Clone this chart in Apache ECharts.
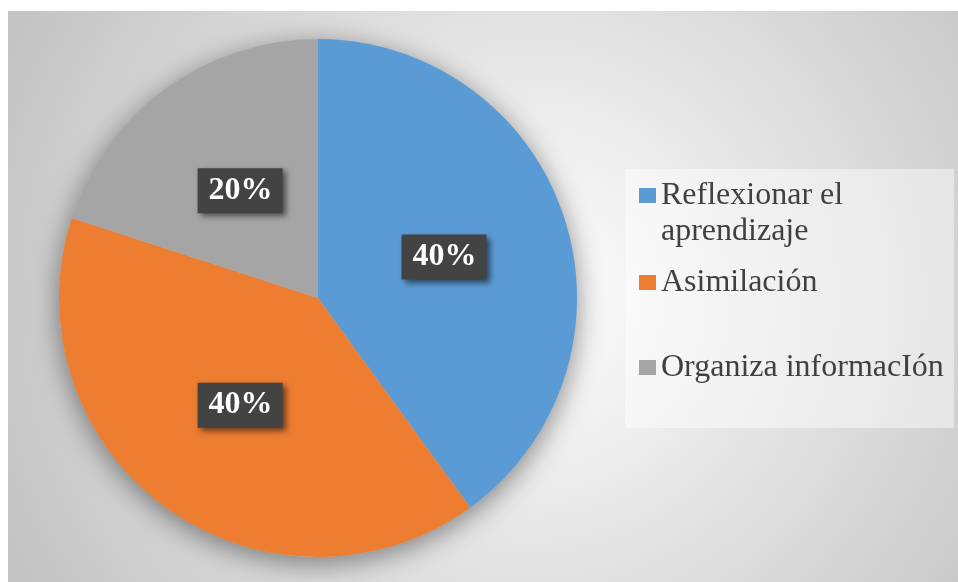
<!DOCTYPE html>
<html>
<head>
<meta charset="utf-8">
<script src="https://cdn.jsdelivr.net/npm/echarts@6/dist/echarts.min.js"></script>
<style>
  html, body { margin: 0; padding: 0; background: #ffffff; }
  #chart { width: 958px; height: 582px; }
</style>
</head>
<body>
<div id="chart"></div>
<script>
// datos del grafico
var categories = ["Reflexionar el aprendizaje", "Asimilación", "Organiza informacIón"];
var legendLabels = ["Reflexionar el\naprendizaje", "Asimilación", "Organiza informacIón"];
var values = [40, 40, 20];
var colors = ["#5B9BD5", "#ED7D31", "#A5A5A5"];

var myChart = echarts.init(document.getElementById("chart"));

var pieData = [];
for (var i = 0; i < categories.length; i++) {
  pieData.push({ name: categories[i], value: values[i], itemStyle: { color: colors[i] } });
}
var total = 0;
for (var j = 0; j < values.length; j++) total += values[j];

var serif = "Liberation Serif";
var legendTops = [188, 275, 360];

function makeLegend(idx) {
  var lg = {
    orient: "vertical",
    left: 639,
    top: legendTops[idx] - 10.5,
    padding: 0,
    itemWidth: 17,
    itemHeight: 15,
    icon: "rect",
    selectedMode: false,
    data: [categories[idx]],
    formatter: function () { return legendLabels[idx]; },
    textStyle: {
      color: "#404040",
      fontFamily: serif,
      fontSize: 32,
      lineHeight: 36
    }
  };
  if (idx === 0) {
    // icono arriba, alineado con la primera linea del texto
    lg.itemHeight = 51;
    lg.icon = "path://M0,0L17,0L17,15L0,15Z M0,51L17,51L17,51L0,51Z";
  }
  return lg;
}

var option = {
  animation: false,
  graphic: [
    {
      type: "rect",
      z: -10,
      shape: { x: 8, y: 11, width: 950, height: 571 },
      style: {
        fill: {
          type: "radial", x: 0.55, y: 0.5, r: 1,
          colorStops: [
            { offset: 0, color: "#ffffff" },
            { offset: 1, color: "#c4c4c4" }
          ]
        }
      }
    },
    {
      type: "rect",
      z: -5,
      shape: { x: 625, y: 169, width: 329, height: 259 },
      style: { fill: "rgba(255,255,255,0.45)" }
    }
  ],
  legend: [makeLegend(0), makeLegend(1), makeLegend(2)],
  series: [
    {
      // sombra del circulo
      name: "sombra",
      type: "pie",
      silent: true,
      center: [318, 298],
      radius: 259,
      label: { show: false },
      labelLine: { show: false },
      itemStyle: {
        color: "#bdbdbd",
        shadowBlur: 28,
        shadowColor: "rgba(0,0,0,0.45)",
        shadowOffsetY: 6
      },
      data: [{ name: "sombra", value: total }]
    },
    {
      name: "datos",
      type: "pie",
      center: [318, 298],
      radius: 259,
      startAngle: 90,
      clockwise: true,
      emphasis: { scale: false },
      itemStyle: { borderWidth: 0 },
      label: {
        show: true,
        position: "inside",
        formatter: "{d}%",
        color: "#ffffff",
        fontFamily: serif,
        fontWeight: "bold",
        fontSize: 32,
        lineHeight: 32,
        backgroundColor: "#434343",
        padding: [7, 10, 6, 11],
        shadowBlur: 6,
        shadowOffsetX: 3,
        shadowOffsetY: 3,
        shadowColor: "rgba(0,0,0,0.55)"
      },
      labelLine: { show: false },
      data: pieData
    }
  ]
};

myChart.setOption(option);
window.addEventListener("resize", function () {
  myChart.resize();
});
</script>
</body>
</html>
